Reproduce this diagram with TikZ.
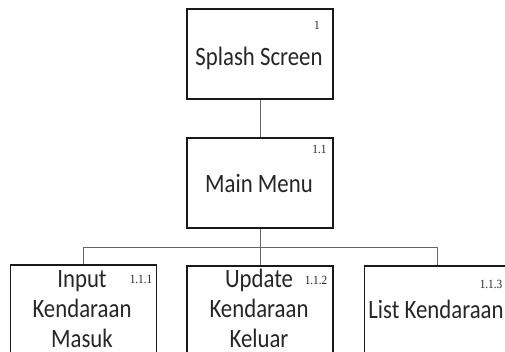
\documentclass[tikz,border=0pt]{standalone}
\usepackage{fontspec}
\setmainfont{Carlito}
\newfontfamily\lblfont[FakeStretch=0.86]{Carlito}
\newfontfamily\numfont[FakeStretch=0.9]{Liberation Serif}
\begin{document}
\begin{tikzpicture}[x=1pt,y=-1pt,
  box/.style={draw=black!90,line width=1.2pt,minimum width=146pt,inner sep=0pt},
  lbl/.style={font=\lblfont\fontsize{26.5}{30}\selectfont,align=center,inner sep=0pt,text=black!85,anchor=base},
  num/.style={font=\numfont\fontsize{12.5}{12.5}\selectfont,inner sep=0pt,text=black!85},
  conn/.style={draw=black!60,line width=0.9pt}]
\useasboundingbox (0,0) rectangle (505,351);
\clip (0,0) rectangle (505,351);
\fill[white] (0,0) rectangle (505,351);
% boxes
\node[box,minimum height=90pt] (b1) at (260,54) {};
\node[box,minimum height=90pt] (b2) at (260,183) {};
\node[box,minimum height=110pt] (b3) at (83.5,320) {};
\node[box,minimum height=110pt] (b4) at (260,321) {};
\node[box,minimum height=110pt] (b5) at (437.5,321) {};
% texts
\node[lbl] (t1) at (259,65) {Splash Screen};
\node[lbl] (t2) at (259,192) {Main Menu};
\node[lbl] (t3) at (82,347) {Input\\Kendaraan\\Masuk};
\node[lbl] (t4) at (259,347) {Update\\Kendaraan\\Keluar};
\node[lbl] (t5) at (436,318) {List Kendaraan};
% numbers
\node[num] (n1) at (317,25.5) {1};
\node[num] (n2) at (319.5,149) {1.1};
\node[num] (n3) at (141,279) {1.1.1};
\node[num] (n4) at (316,280) {1.1.2};
\node[num] (n5) at (491,284) {1.1.3};
% connectors
\coordinate (busL) at (83.5,247);
\coordinate (busR) at (437.5,247);
\draw[conn] (b1.south) -- (b2.north);
\draw[conn] (b2.south) -- (b4.north);
\draw[conn] (b3.north) -- (busL) -- (busR) -- (b5.north);
\end{tikzpicture}
\end{document}
